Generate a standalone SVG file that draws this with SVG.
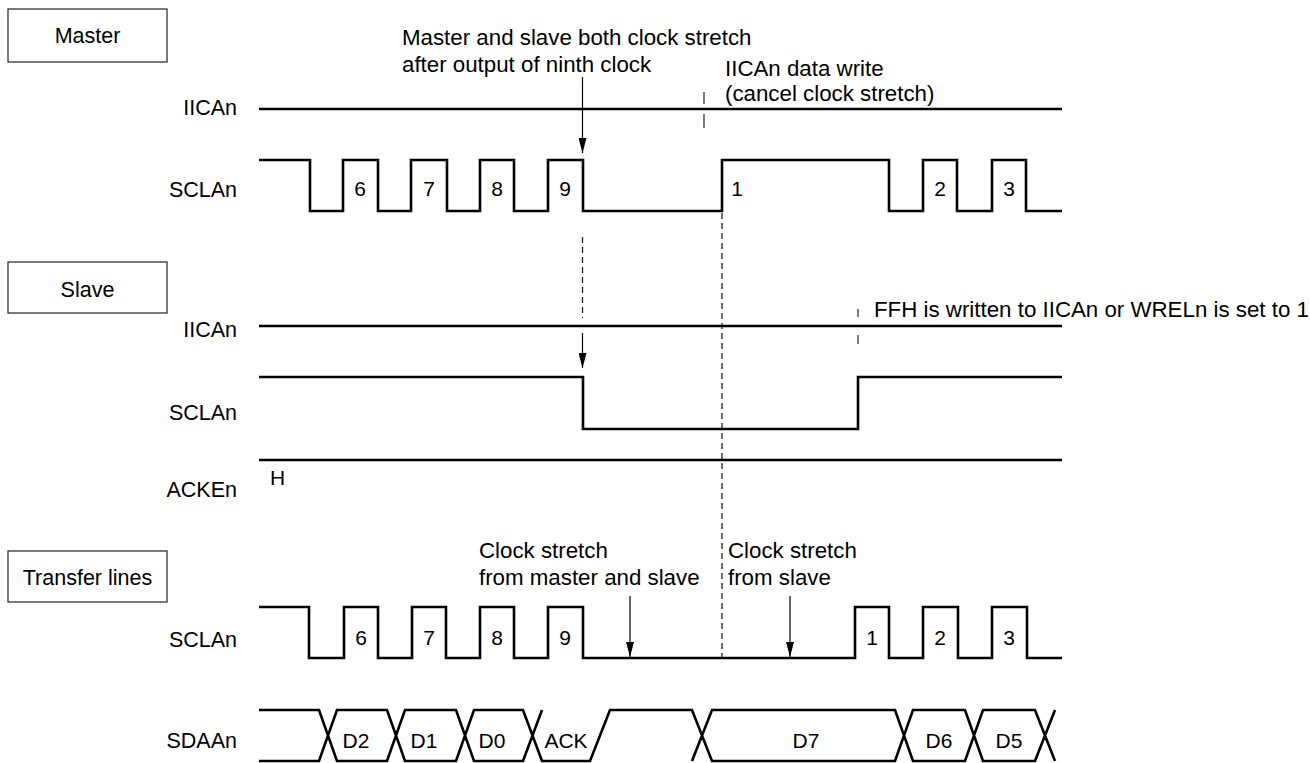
<svg xmlns="http://www.w3.org/2000/svg" width="1310" height="763" viewBox="0 0 1310 763">
<defs>
<marker id="ah" markerWidth="16" markerHeight="8" refX="15" refY="4" orient="auto" markerUnits="userSpaceOnUse" viewBox="0 0 16 8">
<path d="M0,0 L15,4 L0,8 Z" fill="#000"/>
</marker>
</defs>
<style>
text{font-family:"Liberation Sans",Arial,sans-serif;fill:#000}
.lbl{font-size:21.5px;text-anchor:end}
.box{fill:#fff;stroke:#333;stroke-width:1.3}
.bt{font-size:21.5px;text-anchor:middle}
.ann{font-size:22.3px}
.num{font-size:21px;text-anchor:middle}
.w{fill:none;stroke:#000;stroke-width:2.6;stroke-linejoin:miter;stroke-linecap:butt}
.dash{fill:none;stroke:#222;stroke-width:1.3;stroke-dasharray:6 4}
.arr{fill:none;stroke:#000;stroke-width:1.2}
.tick{fill:none;stroke:#333;stroke-width:1.3}
</style>
<rect width="1310" height="763" fill="#fff"/>

<g id="master-box"><rect class="box" x="8" y="9" width="159" height="53"/><text class="bt" x="87.5" y="43">Master</text></g>
<g id="slave-box"><rect class="box" x="8" y="262" width="159" height="51"/><text class="bt" x="87.5" y="297">Slave</text></g>
<g id="transfer-box"><rect class="box" x="8" y="551" width="159" height="51"/><text class="bt" x="87.5" y="585">Transfer lines</text></g>

<g id="master-iican"><text class="lbl" x="237" y="115">IICAn</text><path class="w" d="M259,109 H1062"/></g>
<g id="master-sclan"><text class="lbl" x="237" y="197">SCLAn</text>
<path class="w" d="M259,160 H310 V211 H343 V160 H378 V211 H411 V160 H447 V211 H480 V160 H514 V211 H548 V160 H583 V211 H722 V160 H889 V211 H923 V160 H957 V211 H992 V160 H1026 V211 H1062"/>
<text class="num" x="360" y="196">6</text><text class="num" x="429" y="196">7</text><text class="num" x="497" y="196">8</text><text class="num" x="565" y="196">9</text><text class="num" x="737" y="196">1</text><text class="num" x="940" y="196">2</text><text class="num" x="1009" y="196">3</text>
</g>

<g id="slave-iican"><text class="lbl" x="237" y="337">IICAn</text><path class="w" d="M259,326 H1062"/></g>
<g id="slave-sclan"><text class="lbl" x="237" y="420">SCLAn</text><path class="w" d="M259,377 H583 V429 H858 V377 H1062"/></g>
<g id="slave-acken"><text class="lbl" x="237" y="497">ACKEn</text><path class="w" d="M259,460 H1062"/><text x="270" y="485" style="font-size:21px">H</text></g>

<g id="transfer-sclan"><text class="lbl" x="237" y="647">SCLAn</text>
<path class="w" d="M259,607 H309 V658 H344 V607 H378 V658 H412 V607 H446 V658 H480 V607 H514 V658 H548 V607 H583 V658 H855 V607 H889 V658 H923 V607 H958 V658 H992 V607 H1027 V658 H1062"/>
<text class="num" x="361" y="645">6</text><text class="num" x="429" y="645">7</text><text class="num" x="497" y="645">8</text><text class="num" x="565" y="645">9</text><text class="num" x="872" y="645">1</text><text class="num" x="940" y="645">2</text><text class="num" x="1009" y="645">3</text>
</g>

<g id="transfer-sdaan"><text class="lbl" x="237" y="748">SDAAn</text>
<path class="w" d="M259,710 H319 L337,761 H387 L405,710 H456 L474,761 H523 L542,710 M259,761 H319 L337,710 H387 L405,761 H456 L474,710 H523 L542,761 H590 L610,710 H692 L712,761 H895 L913,710 H965 L983,761 H1035 L1055,710 M692,761 L712,710 H895 L913,761 H965 L983,710 H1035 L1055,761"/>
<text class="num" x="356" y="748">D2</text><text class="num" x="424" y="748">D1</text><text class="num" x="492" y="748">D0</text><text class="num" x="566" y="748">ACK</text><text class="num" x="806" y="748">D7</text><text class="num" x="939" y="748">D6</text><text class="num" x="1009" y="748">D5</text>
</g>

<g id="annotations">
<text class="ann" x="402" y="45">Master and slave both clock stretch</text>
<text class="ann" x="402" y="72">after output of ninth clock</text>
<text class="ann" x="725" y="76">IICAn data write</text>
<text class="ann" x="725" y="101">(cancel clock stretch)</text>
<text class="ann" x="874" y="317">FFH is written to IICAn or WRELn is set to 1</text>
<text class="ann" x="479" y="558">Clock stretch</text>
<text class="ann" x="479" y="585">from master and slave</text>
<text class="ann" x="728" y="558">Clock stretch</text>
<text class="ann" x="728" y="585">from slave</text>
</g>

<g id="connectors">
<path class="arr" d="M582.5,77 V153" marker-end="url(#ah)"/>
<path class="arr" d="M582.5,333 V368" marker-end="url(#ah)"/>
<path class="arr" d="M630,596 V657" marker-end="url(#ah)"/>
<path class="arr" d="M790,596 V657" marker-end="url(#ah)"/>
<path class="dash" d="M582.5,237 V318"/>
<path class="dash" d="M722,213 V658"/>
<path class="tick" d="M704,92 V104 M704,114 V128"/>
<path class="tick" d="M858,309 V317 M858,335 V344"/>
</g>
</svg>
